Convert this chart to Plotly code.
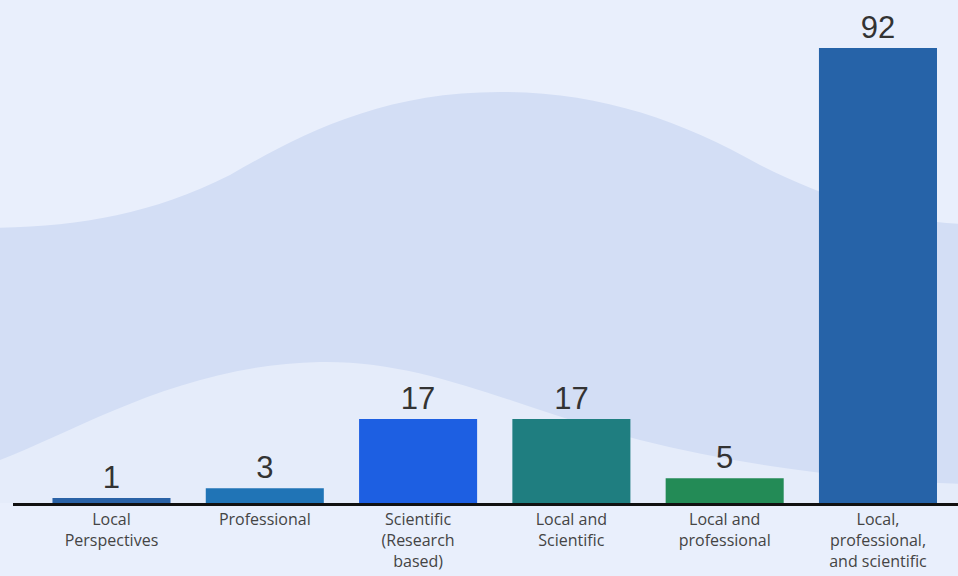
import plotly.graph_objects as go

categories = ["Local Perspectives", "Professional", "Scientific (Research based)",
              "Local and Scientific", "Local and professional",
              "Local, professional, and scientific"]
tick_labels = ["Local<br>Perspectives", "Professional", "Scientific<br>(Research<br>based)",
               "Local and<br>Scientific", "Local and<br>professional",
               "Local,<br>professional,<br>and scientific"]
values = [1, 3, 17, 17, 5, 92]
bar_colors = ["#2A62A6", "#2074B6", "#1D5FE2", "#1F7E80", "#238B56", "#2663A8"]

W, H = 958, 576
ML, MR, MT, MB = 13, 0, 0, 73
PW, PH = W - ML - MR, H - MT - MB


def P(px, py):
    return f"{(px - ML) / PW:.5f},{(H - MB - py) / PH:.5f}"


band_path = (f"M {P(-5, 228)} C {P(80, 226)} {P(150, 215)} {P(230, 175)} "
             f"C {P(300, 135)} {P(380, 92)} {P(500, 92)} "
             f"C {P(600, 92)} {P(680, 120)} {P(760, 165)} "
             f"C {P(830, 200)} {P(900, 222)} {P(963, 224)} "
             f"L {P(963, 503)} L {P(-5, 503)} Z")
lower_path = (f"M {P(-5, 462)} C {P(80, 430)} {P(180, 365)} {P(320, 362)} "
              f"C {P(430, 360)} {P(520, 410)} {P(640, 440)} "
              f"C {P(740, 465)} {P(850, 480)} {P(963, 484)} "
              f"L {P(963, 503)} L {P(-5, 503)} Z")

fig = go.Figure(go.Bar(
    x=categories, y=values,
    marker=dict(color=bar_colors, line=dict(width=0)),
    texttemplate="%{y}", textposition="outside", cliponaxis=False,
    textfont=dict(family="Liberation Sans, Arial, sans-serif", size=31, color="#333333"),
    showlegend=False, hoverinfo="skip",
))

fig.update_layout(
    width=W, height=H,
    margin=dict(l=ML, r=MR, t=MT, b=MB, pad=0),
    paper_bgcolor="#E9EFFC", plot_bgcolor="rgba(0,0,0,0)",
    bargap=0.23,
    shapes=[
        dict(type="path", xref="paper", yref="paper", path=band_path,
             fillcolor="#D3DEF5", line=dict(width=0), layer="below"),
        dict(type="path", xref="paper", yref="paper", path=lower_path,
             fillcolor="#E5ECFA", line=dict(width=0), layer="below"),
    ],
    xaxis=dict(
        tickvals=categories, ticktext=tick_labels,
        range=[-0.6425, 5.522], showgrid=False, zeroline=False,
        showline=True, linecolor="#111111", linewidth=3, ticks="",
        tickfont=dict(family="Open Sans, sans-serif", size=16, color="#444444"),
        fixedrange=True,
    ),
    yaxis=dict(range=[0, 101.7], visible=False, showgrid=False, zeroline=False,
               fixedrange=True),
)

fig.write_html("out.html", config={"displayModeBar": False},
               post_script="document.body.style.margin='0';document.body.style.background='#E9EFFC';")
